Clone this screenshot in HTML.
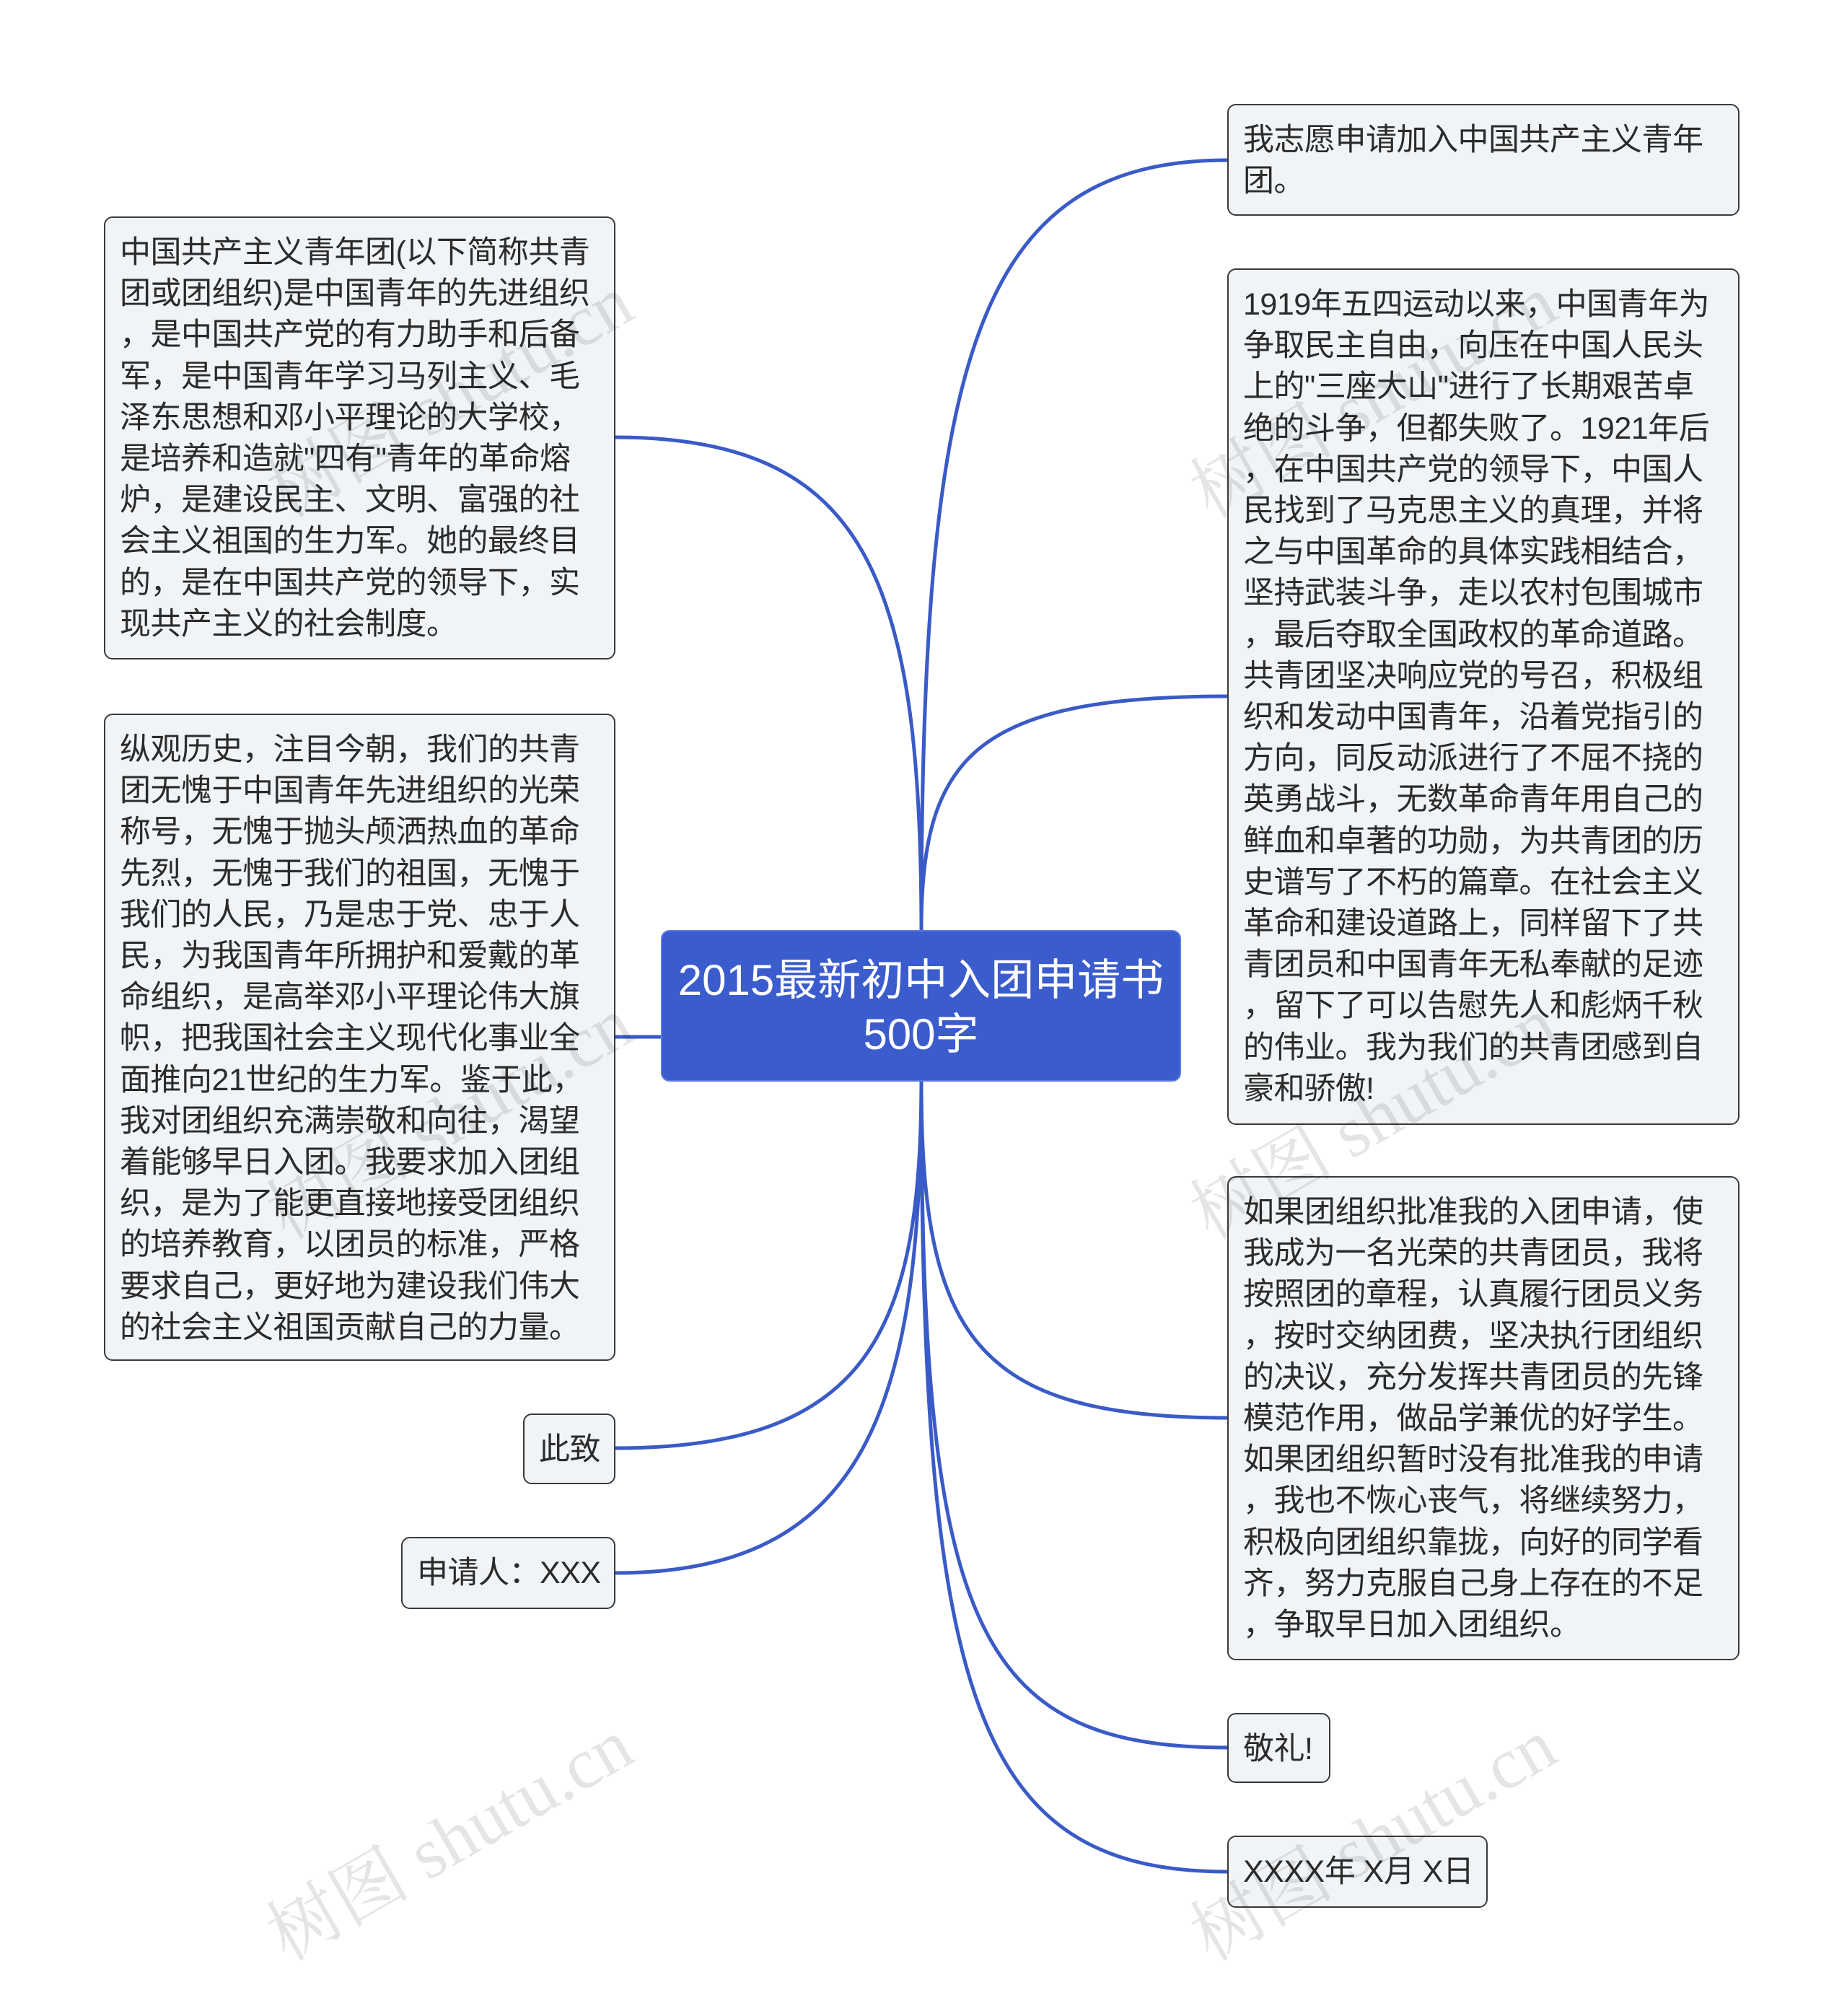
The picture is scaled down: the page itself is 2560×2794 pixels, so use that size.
<!DOCTYPE html>
<html><head><meta charset="utf-8">
<style>
html,body{margin:0;padding:0;background:#fff}
body{width:2560px;height:2794px;position:relative;overflow:hidden;font-family:"Liberation Sans","Noto Sans CJK SC",sans-serif}
.b{position:absolute;box-sizing:border-box;background:#f1f4f7;border:2.5px solid #3a3a3a;border-radius:12px;color:#2b2b2b;font-size:43px;line-height:57.2px;padding:20px 10px 0 20px;white-space:nowrap;letter-spacing:-0.5px}
.c{position:absolute;left:916px;top:1289px;width:721px;height:210px;box-sizing:border-box;background:#3b5ccc;border:2px solid #5a7ae0;border-radius:12px;color:#fff;font-size:60px;line-height:75px;text-align:center;padding-top:30px}
.w{position:absolute;color:rgba(0,0,0,0.1);font-family:"Liberation Serif","Noto Serif CJK SC",serif;font-size:100px;transform:rotate(-30deg);transform-origin:left top;white-space:nowrap}
svg{position:absolute;left:0;top:0}
</style></head><body>
<svg width="2560" height="2794" fill="none" stroke="#3a5bc7" stroke-width="5">
<path d="M1277 1289 C1277 500 1350 222 1701 222"/>
<path d="M1277 1289 C1277 1050 1350 965 1701 965"/>
<path d="M1277 1499 C1277 1850 1350 1965 1701 1965"/>
<path d="M1277 1499 C1277 2250 1350 2422 1701 2422"/>
<path d="M1277 1499 C1277 2350 1350 2594 1701 2594"/>
<path d="M1277 1289 C1277 800 1200 606 853 606"/>
<path d="M916 1437 L853 1437"/>
<path d="M1277 1499 C1277 1850 1200 2007 853 2007"/>
<path d="M1277 1499 C1277 1950 1200 2180 853 2180"/>
</svg>
<div class="c">2015最新初中入团申请书<br>500字</div>
<div class="b" style="left:1701px;top:144px;width:710px;height:155px">我志愿申请加入中国共产主义青年<br>团。</div>
<div class="b" style="left:1701px;top:372px;width:710px;height:1187px">1919年五四运动以来，中国青年为<br>争取民主自由，向压在中国人民头<br>上的"三座大山"进行了长期艰苦卓<br>绝的斗争，但都失败了。1921年后<br>，在中国共产党的领导下，中国人<br>民找到了马克思主义的真理，并将<br>之与中国革命的具体实践相结合，<br>坚持武装斗争，走以农村包围城市<br>，最后夺取全国政权的革命道路。<br>共青团坚决响应党的号召，积极组<br>织和发动中国青年，沿着党指引的<br>方向，同反动派进行了不屈不挠的<br>英勇战斗，无数革命青年用自己的<br>鲜血和卓著的功勋，为共青团的历<br>史谱写了不朽的篇章。在社会主义<br>革命和建设道路上，同样留下了共<br>青团员和中国青年无私奉献的足迹<br>，留下了可以告慰先人和彪炳千秋<br>的伟业。我为我们的共青团感到自<br>豪和骄傲!</div>
<div class="b" style="left:1701px;top:1630px;width:710px;height:671px">如果团组织批准我的入团申请，使<br>我成为一名光荣的共青团员，我将<br>按照团的章程，认真履行团员义务<br>，按时交纳团费，坚决执行团组织<br>的决议，充分发挥共青团员的先锋<br>模范作用，做品学兼优的好学生。<br>如果团组织暂时没有批准我的申请<br>，我也不恢心丧气，将继续努力，<br>积极向团组织靠拢，向好的同学看<br>齐，努力克服自己身上存在的不足<br>，争取早日加入团组织。</div>
<div class="b" style="left:1701px;top:2374px;width:143px;height:97px">敬礼!</div>
<div class="b" style="left:1701px;top:2544px;width:361px;height:100px">XXXX年 X月 X日</div>
<div class="b" style="left:144px;top:300px;width:709px;height:614px">中国共产主义青年团(以下简称共青<br>团或团组织)是中国青年的先进组织<br>，是中国共产党的有力助手和后备<br>军，是中国青年学习马列主义、毛<br>泽东思想和邓小平理论的大学校，<br>是培养和造就"四有"青年的革命熔<br>炉，是建设民主、文明、富强的社<br>会主义祖国的生力军。她的最终目<br>的，是在中国共产党的领导下，实<br>现共产主义的社会制度。</div>
<div class="b" style="left:144px;top:989px;width:709px;height:897px">纵观历史，注目今朝，我们的共青<br>团无愧于中国青年先进组织的光荣<br>称号，无愧于抛头颅洒热血的革命<br>先烈，无愧于我们的祖国，无愧于<br>我们的人民，乃是忠于党、忠于人<br>民，为我国青年所拥护和爱戴的革<br>命组织，是高举邓小平理论伟大旗<br>帜，把我国社会主义现代化事业全<br>面推向21世纪的生力军。鉴于此，<br>我对团组织充满崇敬和向往，渴望<br>着能够早日入团。我要求加入团组<br>织，是为了能更直接地接受团组织<br>的培养教育，以团员的标准，严格<br>要求自己，更好地为建设我们伟大<br>的社会主义祖国贡献自己的力量。</div>
<div class="b" style="left:725px;top:1959px;width:128px;height:98px">此致</div>
<div class="b" style="left:556px;top:2130px;width:297px;height:100px">申请人：XXX</div>
<div class="w" style="left:340px;top:620px">树图 shutu.cn</div>
<div class="w" style="left:1620px;top:620px">树图 shutu.cn</div>
<div class="w" style="left:340px;top:1620px">树图 shutu.cn</div>
<div class="w" style="left:1620px;top:1620px">树图 shutu.cn</div>
<div class="w" style="left:340px;top:2620px">树图 shutu.cn</div>
<div class="w" style="left:1620px;top:2620px">树图 shutu.cn</div>
</body></html>
